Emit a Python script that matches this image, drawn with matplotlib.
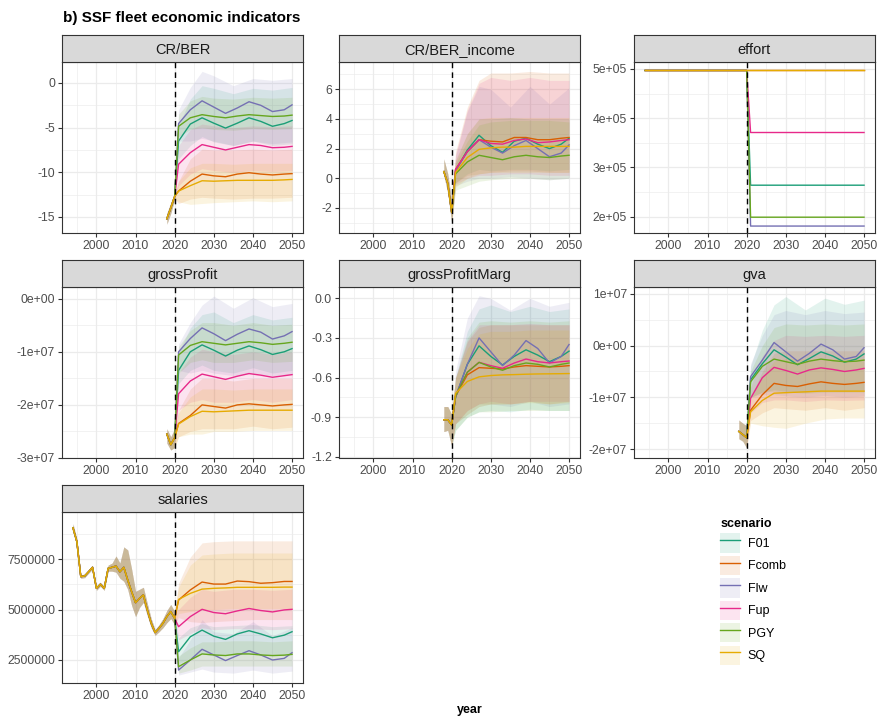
import numpy as np
import matplotlib
matplotlib.use('Agg')
import matplotlib.pyplot as plt
from matplotlib.patches import Patch
from matplotlib.lines import Line2D

plt.rcParams['font.family'] = ['Liberation Sans', 'DejaVu Sans']

# scenarios and colours (Dark2)
scenarios = ['F01', 'Fcomb', 'Flw', 'Fup', 'PGY', 'SQ']
colors = {'F01': '#1B9E77', 'Fcomb': '#D95F02', 'Flw': '#7570B3',
          'Fup': '#E7298A', 'PGY': '#66A61E', 'SQ': '#E6AB02'}

# years
line_years = [2021, 2024, 2027, 2030, 2033, 2036, 2039, 2042, 2045, 2048, 2050]
band_years = [2021, 2024, 2027, 2030, 2035, 2040, 2045, 2050]
hist_years = [2018, 2019, 2020]

# ---- CR/BER ----
crber_hist = [-15.2, -14.0, -12.7]
crber_hist_lo = [-15.8, -14.6, -13.0]
crber_hist_hi = [-14.6, -13.4, -12.4]
crber_mid = {
    'F01':   [-6.5, -4.6, -3.9, -4.5, -5.05, -4.5, -3.9, -4.3, -4.85, -4.55, -4.2],
    'Fcomb': [-12.1, -11.0, -10.2, -10.4, -10.5, -10.2, -10.05, -10.2, -10.3, -10.2, -10.15],
    'Flw':   [-4.55, -3.0, -2.0, -2.7, -3.4, -2.8, -2.1, -2.5, -3.2, -3.0, -2.45],
    'Fup':   [-9.1, -7.8, -6.9, -7.2, -7.5, -7.2, -6.9, -7.0, -7.25, -7.2, -7.1],
    'PGY':   [-4.85, -3.9, -3.55, -3.75, -3.9, -3.7, -3.55, -3.65, -3.75, -3.7, -3.6],
    'SQ':    [-12.1, -11.5, -10.95, -11.0, -10.95, -10.9, -10.9, -10.9, -10.9, -10.85, -10.8]}
crber_lo = {
    'F01':   [-8.5, -7.0, -6.0, -6.6, -7.0, -6.5, -7.0, -6.8],
    'Fcomb': [-13.5, -13.0, -12.8, -12.9, -13.0, -12.9, -12.9, -12.8],
    'Flw':   [-6.5, -6.5, -6.2, -6.5, -7.0, -6.5, -6.8, -6.6],
    'Fup':   [-11.5, -10.2, -9.6, -9.8, -10.0, -9.8, -9.9, -9.8],
    'PGY':   [-6.0, -5.2, -5.0, -5.2, -5.3, -5.1, -5.2, -5.1],
    'SQ':    [-13.3, -13.6, -13.5, -13.4, -13.3, -13.2, -13.3, -13.2]}
crber_hi = {
    'F01':   [-4.8, -1.8, -0.3, -0.6, -1.2, -0.6, -0.8, -0.5],
    'Fcomb': [-11.0, -8.5, -7.4, -7.5, -7.5, -7.4, -7.5, -7.4],
    'Flw':   [-3.0, -0.5, 1.3, 0.8, -0.3, 0.5, 0.3, 0.5],
    'Fup':   [-7.0, -5.2, -4.6, -4.8, -5.0, -4.8, -4.9, -4.8],
    'PGY':   [-3.5, -2.0, -1.5, -1.7, -1.8, -1.6, -1.7, -1.6],
    'SQ':    [-11.0, -9.5, -9.0, -9.0, -9.1, -9.0, -9.0, -9.0]}

# ---- CR/BER_income ----
income_hist = [0.45, -0.35, -2.3]
income_hist_lo = [0.2, -1.0, -3.0]
income_hist_hi = [1.3, 0.3, -1.5]
income_mid = {
    'F01':   [0.5, 1.9, 2.9, 2.2, 1.75, 2.5, 2.7, 2.3, 2.0, 2.3, 2.7],
    'Fcomb': [0.6, 1.8, 2.6, 2.5, 2.45, 2.75, 2.75, 2.6, 2.6, 2.7, 2.75],
    'Flw':   [0.5, 1.8, 2.6, 2.1, 1.7, 2.2, 2.55, 2.0, 1.45, 1.7, 2.25],
    'Fup':   [0.6, 1.8, 2.6, 2.35, 2.3, 2.55, 2.65, 2.4, 2.45, 2.55, 2.6],
    'PGY':   [0.3, 1.1, 1.55, 1.4, 1.25, 1.45, 1.55, 1.45, 1.4, 1.5, 1.55],
    'SQ':    [0.4, 1.4, 1.95, 2.05, 2.1, 2.1, 2.15, 2.15, 2.15, 2.15, 2.15]}
income_lo = {
    'F01':   [-0.3, 0.3, 0.6, 0.5, 0.6, 0.6, 0.5, 0.6],
    'Fcomb': [-0.3, 0.2, 0.3, 0.4, 0.5, 0.5, 0.4, 0.4],
    'Flw':   [-0.5, -0.2, 0.0, 0.0, 0.1, 0.0, -0.1, 0.0],
    'Fup':   [-0.4, 0.0, 0.2, 0.2, 0.3, 0.3, 0.2, 0.2],
    'PGY':   [-0.8, -0.5, -0.2, -0.1, 0.0, 0.0, -0.1, 0.0],
    'SQ':    [-0.6, 0.0, 0.3, 0.4, 0.4, 0.4, 0.4, 0.4]}
income_hi = {
    'F01':   [1.2, 3.0, 4.0, 4.0, 4.1, 4.0, 4.0, 4.0],
    'Fcomb': [1.8, 4.8, 6.6, 7.1, 7.1, 7.2, 7.1, 7.1],
    'Flw':   [1.5, 4.5, 6.2, 6.0, 4.8, 6.2, 5.0, 6.1],
    'Fup':   [1.6, 4.6, 6.4, 6.8, 6.6, 6.8, 6.6, 6.6],
    'PGY':   [1.0, 2.5, 3.6, 3.8, 3.9, 3.9, 3.9, 3.8],
    'SQ':    [1.2, 3.0, 4.0, 4.1, 4.1, 4.1, 4.1, 4.1]}

# ---- effort ----
effort_hist_years = [1994, 2020]
effort_hist = [497000, 497000]
effort_years = [2021, 2050]
effort_mid = {
    'F01':   [264000, 264000],
    'Fcomb': [497000, 497000],
    'Flw':   [181000, 181000],
    'Fup':   [371000, 371000],
    'PGY':   [199000, 199000],
    'SQ':    [497000, 497000]}

# ---- grossProfit (units of 1e7) ----
gp_hist = [-2.55, -2.75, -2.62]
gp_hist_lo = [-2.72, -2.85, -2.8]
gp_hist_hi = [-2.45, -2.6, -2.45]
gp_mid = {
    'F01':   [-1.35, -1.0, -0.87, -0.97, -1.08, -0.97, -0.89, -0.96, -1.05, -1.0, -0.94],
    'Fcomb': [-2.35, -2.2, -2.0, -2.03, -2.06, -2.0, -1.98, -2.0, -2.02, -2.0, -1.99],
    'Flw':   [-1.0, -0.75, -0.55, -0.66, -0.79, -0.67, -0.57, -0.63, -0.76, -0.7, -0.62],
    'Fup':   [-1.79, -1.55, -1.42, -1.47, -1.52, -1.46, -1.41, -1.44, -1.48, -1.45, -1.43],
    'PGY':   [-1.06, -0.88, -0.81, -0.84, -0.87, -0.84, -0.81, -0.83, -0.86, -0.84, -0.82],
    'SQ':    [-2.36, -2.22, -2.12, -2.13, -2.12, -2.11, -2.1, -2.1, -2.1, -2.1, -2.1]}
gp_lo = {
    'F01':   [-1.6, -1.35, -1.25, -1.35, -1.4, -1.3, -1.4, -1.35],
    'Fcomb': [-2.6, -2.5, -2.45, -2.45, -2.45, -2.4, -2.45, -2.42],
    'Flw':   [-1.35, -1.4, -1.35, -1.4, -1.45, -1.4, -1.45, -1.42],
    'Fup':   [-2.1, -1.95, -1.9, -1.95, -1.95, -1.9, -1.95, -1.9],
    'PGY':   [-1.4, -1.2, -1.15, -1.2, -1.2, -1.15, -1.2, -1.18],
    'SQ':    [-2.6, -2.55, -2.55, -2.5, -2.5, -2.48, -2.48, -2.48]}
gp_hi = {
    'F01':   [-1.0, -0.55, -0.3, -0.25, -0.45, -0.3, -0.4, -0.35],
    'Fcomb': [-2.1, -1.7, -1.5, -1.5, -1.55, -1.5, -1.5, -1.5],
    'Flw':   [-0.85, -0.45, -0.12, 0.05, -0.18, 0.02, -0.15, -0.09],
    'Fup':   [-1.4, -1.1, -0.95, -1.0, -1.05, -1.0, -1.05, -1.0],
    'PGY':   [-0.9, -0.6, -0.45, -0.45, -0.5, -0.45, -0.5, -0.48],
    'SQ':    [-2.15, -1.85, -1.7, -1.7, -1.72, -1.7, -1.7, -1.7]}

# ---- grossProfitMarg ----
gpm_hist = [-0.92, -0.92, -0.96]
gpm_hist_lo = [-1.01, -1.0, -1.12]
gpm_hist_hi = [-0.82, -0.82, -0.88]
gpm_mid = {
    'F01':   [-0.75, -0.5, -0.36, -0.44, -0.505, -0.44, -0.39, -0.43, -0.48, -0.44, -0.40],
    'Fcomb': [-0.74, -0.58, -0.525, -0.53, -0.535, -0.52, -0.51, -0.515, -0.52, -0.515, -0.51],
    'Flw':   [-0.745, -0.5, -0.3, -0.405, -0.51, -0.43, -0.32, -0.38, -0.49, -0.44, -0.35],
    'Fup':   [-0.74, -0.56, -0.485, -0.51, -0.53, -0.49, -0.46, -0.48, -0.49, -0.48, -0.475],
    'PGY':   [-0.74, -0.56, -0.485, -0.52, -0.545, -0.51, -0.49, -0.5, -0.52, -0.5, -0.49],
    'SQ':    [-0.72, -0.63, -0.595, -0.585, -0.58, -0.578, -0.575, -0.573, -0.572, -0.571, -0.57]}
gpm_lo = {
    'F01':   [-1.0, -0.9, -0.86, -0.85, -0.86, -0.84, -0.85, -0.85],
    'Fcomb': [-0.95, -0.85, -0.8, -0.8, -0.8, -0.78, -0.8, -0.78],
    'Flw':   [-0.95, -0.88, -0.82, -0.8, -0.82, -0.78, -0.82, -0.8],
    'Fup':   [-0.95, -0.85, -0.8, -0.78, -0.8, -0.78, -0.78, -0.78],
    'PGY':   [-1.0, -0.9, -0.86, -0.86, -0.85, -0.85, -0.85, -0.85],
    'SQ':    [-0.95, -0.88, -0.82, -0.8, -0.8, -0.79, -0.8, -0.79]}
gpm_hi = {
    'F01':   [-0.6, -0.25, -0.08, -0.05, -0.1, -0.06, -0.1, -0.08],
    'Fcomb': [-0.6, -0.33, -0.22, -0.2, -0.2, -0.2, -0.2, -0.2],
    'Flw':   [-0.55, -0.15, 0.02, 0.0, -0.09, 0.0, -0.06, -0.03],
    'Fup':   [-0.6, -0.32, -0.2, -0.2, -0.2, -0.19, -0.2, -0.2],
    'PGY':   [-0.6, -0.3, -0.18, -0.17, -0.18, -0.17, -0.18, -0.17],
    'SQ':    [-0.6, -0.38, -0.27, -0.25, -0.25, -0.24, -0.24, -0.24]}

# ---- gva (units of 1e7) ----
gva_hist = [-1.66, -1.72, -1.78]
gva_hist_lo = [-1.8, -1.85, -1.98]
gva_hist_hi = [-1.44, -1.5, -1.55]
gva_mid = {
    'F01':   [-0.66, -0.35, -0.08, -0.22, -0.37, -0.25, -0.12, -0.2, -0.32, -0.26, -0.16],
    'Fcomb': [-1.25, -0.95, -0.73, -0.77, -0.79, -0.74, -0.70, -0.73, -0.75, -0.73, -0.71],
    'Flw':   [-0.6, -0.28, 0.06, -0.12, -0.3, -0.15, 0.03, -0.08, -0.26, -0.21, -0.04],
    'Fup':   [-1.02, -0.62, -0.42, -0.48, -0.55, -0.47, -0.43, -0.46, -0.5, -0.47, -0.44],
    'PGY':   [-0.7, -0.4, -0.26, -0.31, -0.36, -0.3, -0.26, -0.29, -0.31, -0.3, -0.28],
    'SQ':    [-1.28, -1.06, -0.92, -0.91, -0.9, -0.89, -0.88, -0.88, -0.88, -0.88, -0.88]}
gva_lo = {
    'F01':   [-1.0, -0.9, -0.85, -0.88, -0.9, -0.86, -0.88, -0.86],
    'Fcomb': [-1.45, -1.3, -1.2, -1.22, -1.25, -1.2, -1.25, -1.2],
    'Flw':   [-1.0, -0.95, -0.95, -0.97, -1.0, -0.96, -1.0, -0.97],
    'Fup':   [-1.3, -1.1, -1.05, -1.05, -1.08, -1.05, -1.06, -1.05],
    'PGY':   [-1.0, -0.9, -0.88, -0.9, -0.92, -0.9, -0.9, -0.9],
    'SQ':    [-1.5, -1.55, -1.58, -1.6, -1.5, -1.42, -1.4, -1.4]}
gva_hi = {
    'F01':   [-0.4, 0.3, 0.79, 0.95, 0.69, 0.92, 0.8, 0.88],
    'Fcomb': [-1.0, -0.5, -0.15, -0.1, -0.1, -0.1, -0.1, -0.1],
    'Flw':   [-0.35, 0.2, 0.6, 0.68, 0.6, 0.68, 0.62, 0.65],
    'Fup':   [-0.8, -0.2, 0.1, 0.2, 0.18, 0.2, 0.18, 0.2],
    'PGY':   [-0.5, 0.0, 0.35, 0.42, 0.4, 0.42, 0.4, 0.42],
    'SQ':    [-1.05, -0.6, -0.3, -0.25, -0.25, -0.25, -0.25, -0.25]}

# ---- salaries (units of 1e6) ----
sal_hist_years = list(range(1994, 2021))
sal_hist = [9.05, 8.36, 6.63, 6.66, 6.87, 7.09, 6.05, 6.25, 6.05, 7.04, 7.09, 7.15, 6.87,
            7.09, 6.46, 5.88, 5.34, 5.55, 5.72, 4.98, 4.32, 3.86, 4.07, 4.32, 4.65, 4.9, 4.56]
sal_hist_lo = [8.85, 8.2, 6.55, 6.58, 6.8, 7.0, 5.95, 6.15, 5.95, 6.9, 6.9, 6.85, 6.55,
               6.4, 6.0, 5.2, 4.65, 5.1, 5.35, 4.7, 4.1, 3.72, 3.9, 4.1, 4.35, 4.55, 4.25]
sal_hist_hi = [9.25, 8.5, 6.72, 6.75, 6.95, 7.18, 6.15, 6.35, 6.15, 7.2, 7.3, 7.65, 7.3,
               8.1, 7.95, 7.0, 5.9, 6.0, 6.1, 5.3, 4.55, 4.0, 4.25, 4.55, 4.95, 5.25, 4.9]
sal_mid = {
    'F01':   [2.91, 3.65, 3.98, 3.68, 3.52, 3.79, 3.95, 3.79, 3.6, 3.73, 3.9],
    'Fcomb': [5.47, 5.97, 6.36, 6.26, 6.26, 6.41, 6.38, 6.3, 6.33, 6.39, 6.39],
    'Flw':   [2.0, 2.5, 3.03, 2.75, 2.47, 2.72, 2.96, 2.75, 2.5, 2.58, 2.86],
    'Fup':   [4.15, 4.65, 5.01, 4.85, 4.79, 4.93, 5.05, 4.95, 4.88, 4.98, 5.01],
    'PGY':   [2.17, 2.5, 2.8, 2.75, 2.72, 2.8, 2.8, 2.75, 2.72, 2.74, 2.78],
    'SQ':    [5.5, 5.8, 6.01, 6.05, 6.07, 6.1, 6.1, 6.1, 6.1, 6.11, 6.11]}
sal_lo = {
    'F01':   [2.3, 2.6, 2.8, 2.7, 2.75, 2.8, 2.7, 2.75],
    'Fcomb': [4.6, 4.4, 4.35, 4.4, 4.45, 4.5, 4.5, 4.5],
    'Flw':   [1.75, 1.9, 2.05, 1.9, 1.85, 2.0, 1.85, 1.95],
    'Fup':   [3.5, 3.8, 4.1, 4.0, 4.05, 4.05, 4.0, 4.05],
    'PGY':   [1.85, 2.0, 2.2, 2.2, 2.2, 2.2, 2.2, 2.2],
    'SQ':    [4.8, 4.9, 5.0, 5.0, 5.05, 5.05, 5.05, 5.05]}
sal_hi = {
    'F01':   [3.6, 4.1, 4.3, 4.15, 4.2, 4.25, 4.15, 4.2],
    'Fcomb': [6.3, 7.6, 8.3, 8.36, 8.4, 8.4, 8.4, 8.4],
    'Flw':   [2.6, 3.5, 4.5, 3.9, 3.8, 4.4, 3.7, 4.1],
    'Fup':   [5.0, 5.6, 6.0, 5.9, 6.0, 6.0, 5.95, 6.0],
    'PGY':   [2.7, 3.1, 3.4, 3.4, 3.45, 3.45, 3.4, 3.45],
    'SQ':    [6.1, 7.2, 7.7, 7.75, 7.8, 7.8, 7.8, 7.8]}

# panel definitions: title, hist years, hist mid/lo/hi, proj years, mid/lo/hi, scale,
# y ticks, y tick labels, y limits
panels = [
    ('CR/BER', hist_years, crber_hist, crber_hist_lo, crber_hist_hi, line_years,
     crber_mid, crber_lo, crber_hi, 1,
     [0, -5, -10, -15], ['0', '-5', '-10', '-15'], (-16.8, 2.35)),
    ('CR/BER_income', hist_years, income_hist, income_hist_lo, income_hist_hi, line_years,
     income_mid, income_lo, income_hi, 1,
     [-2, 0, 2, 4, 6], ['-2', '0', '2', '4', '6'], (-3.69, 7.84)),
    ('effort', effort_hist_years, effort_hist, None, None, effort_years,
     effort_mid, None, None, 1,
     [200000, 300000, 400000, 500000], ['2e+05', '3e+05', '4e+05', '5e+05'], (166900, 514200)),
    ('grossProfit', hist_years, gp_hist, gp_hist_lo, gp_hist_hi, line_years,
     gp_mid, gp_lo, gp_hi, 1e7,
     [0, -1e7, -2e7, -3e7], ['0e+00', '-1e+07', '-2e+07', '-3e+07'], (-3.0e7, 2.2e6)),
    ('grossProfitMarg', hist_years, gpm_hist, gpm_hist_lo, gpm_hist_hi, line_years,
     gpm_mid, gpm_lo, gpm_hi, 1,
     [0.0, -0.3, -0.6, -0.9, -1.2], ['0.0', '-0.3', '-0.6', '-0.9', '-1.2'], (-1.21, 0.086)),
    ('gva', hist_years, gva_hist, gva_hist_lo, gva_hist_hi, line_years,
     gva_mid, gva_lo, gva_hi, 1e7,
     [1e7, 0, -1e7, -2e7], ['1e+07', '0e+00', '-1e+07', '-2e+07'], (-2.174e7, 1.135e7)),
    ('salaries', sal_hist_years, sal_hist, sal_hist_lo, sal_hist_hi, line_years,
     sal_mid, sal_lo, sal_hi, 1e6,
     [2500000, 5000000, 7500000], ['2500000', '5000000', '7500000'], (1.36e6, 9.83e6)),
]

W, H = 878, 718
fig = plt.figure(figsize=(W / 100, H / 100), dpi=100)

col_left = [62, 339, 634]
row_top = [62, 287, 512]
pw, ph, sh = 241, 171, 27

for i, p in enumerate(panels):
    (title, hy, hmid, hlo, hhi, py, mid, lo, hi, sc, yt, ylab, ylim) = p
    r, c = divmod(i, 3)
    x0, y0 = col_left[c], row_top[r]
    ax = fig.add_axes([x0 / W, 1 - (y0 + ph) / H, pw / W, ph / H])
    st = fig.add_axes([x0 / W, 1 - y0 / H, pw / W, sh / H])

    # ribbons
    if lo is not None:
        for s in scenarios:
            bx = list(hy) + band_years
            blo = np.array(list(hlo) + lo[s]) * sc
            bhi = np.array(list(hhi) + hi[s]) * sc
            ax.fill_between(bx, blo, bhi, color=colors[s], alpha=0.12, lw=0)
    # lines
    for s in scenarios:
        lx = list(hy) + list(py)
        ly = np.array(list(hmid) + mid[s]) * sc
        ax.plot(lx, ly, color=colors[s], lw=1.0)

    ax.axvline(2020, color='black', ls=(0, (4, 3)), lw=1.0)

    ax.set_xlim(1991.2, 2052.8)
    ax.set_ylim(*ylim)
    ax.set_xticks([2000, 2010, 2020, 2030, 2040, 2050])
    ax.set_xticks([1995, 2005, 2015, 2025, 2035, 2045], minor=True)
    ax.set_yticks(yt)
    ax.set_yticklabels(ylab)
    step = abs(yt[1] - yt[0])
    ymin = [v + step / 2 for v in [min(yt) - step] + list(yt)]
    ymin = [v for v in ymin if ylim[0] < v < ylim[1]]
    ax.set_yticks(ymin, minor=True)
    ax.grid(which='major', color='#EBEBEB', lw=0.9)
    ax.grid(which='minor', color='#EBEBEB', lw=0.45)
    ax.set_axisbelow(True)
    ax.tick_params(which='major', length=3, width=0.8, color='#333333',
                   labelcolor='#4D4D4D', labelsize=8.8, pad=2)
    ax.tick_params(which='minor', length=0)
    for sp in ax.spines.values():
        sp.set_color('#333333')
        sp.set_linewidth(0.8)

    st.set_facecolor('#D9D9D9')
    st.set_xticks([])
    st.set_yticks([])
    for sp in st.spines.values():
        sp.set_color('#333333')
        sp.set_linewidth(0.8)
    st.text(0.5, 0.45, title, ha='center', va='center', fontsize=10.5,
            color='#1A1A1A', transform=st.transAxes)

fig.text(63 / W, 1 - 18 / H, 'b) SSF fleet economic indicators', fontsize=11,
         fontweight='bold', ha='left', va='center')
fig.text(470 / W, 1 - 710 / H, 'year', fontsize=9, fontweight='bold',
         ha='center', va='center')

handles = [(Patch(facecolor=colors[s], alpha=0.12, edgecolor='none'),
            Line2D([], [], color=colors[s], lw=1.0)) for s in scenarios]
leg = fig.legend(handles, scenarios, title='scenario', loc='upper left',
                 bbox_to_anchor=(709 / W, 1 - 507 / H), frameon=False,
                 fontsize=9, title_fontproperties={'weight': 'bold', 'size': 9},
                 handlelength=1.6, handleheight=2.0, labelspacing=0.25,
                 handletextpad=0.6, alignment='left')

fig.savefig('out.png', dpi=100)
